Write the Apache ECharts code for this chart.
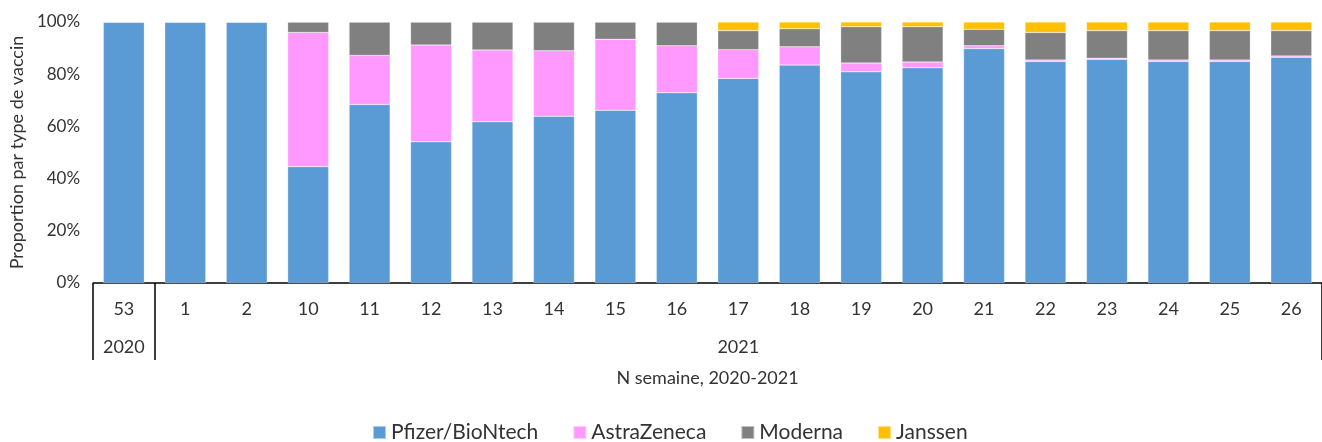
<!DOCTYPE html>
<html>
<head>
<meta charset="utf-8">
<script src="https://cdn.jsdelivr.net/npm/echarts@6/dist/echarts.min.js"></script>
<style>
  html, body { margin: 0; padding: 0; background: #fff; }
  #chart_one { width: 1322px; height: 442px; }
</style>
</head>
<body>
<div id="chart_one"></div>
<script>
// semaines (N) et année
const weeks = ['53', '1', '2', '10', '11', '12', '13', '14', '15', '16', '17', '18', '19', '20', '21', '22', '23', '24', '25', '26'];
const yearLabels = ['2020', '', '', '', '', '', '', '', '', '', '2021', '', '', '', '', '', '', '', '', ''];

// proportions (%) par type de vaccin
const pfizer      = [100, 100, 100, 44.6, 68.4, 54.1, 61.8, 63.9, 66.2, 72.9, 78.4, 83.5, 80.9, 82.5, 89.8, 84.9, 85.7, 84.9, 84.9, 86.5];
const astrazeneca = [0, 0, 0, 51.4, 18.8, 37.1, 27.5, 25.1, 27.2, 18.0, 11.0, 7.0, 3.4, 2.2, 1.1, 0.5, 0.4, 0.5, 0.5, 0.5];
const moderna     = [0, 0, 0, 4.0, 12.8, 8.8, 10.7, 11.0, 6.6, 9.1, 7.3, 6.9, 13.9, 13.5, 6.3, 10.6, 10.6, 11.3, 11.3, 9.7];
const janssen     = [0, 0, 0, 0, 0, 0, 0, 0, 0, 0, 3.3, 2.6, 1.8, 1.8, 2.8, 4.0, 3.3, 3.3, 3.3, 3.3];

const yTicks = [0, 20, 40, 60, 80, 100];

var theDom = document.getElementById('chart_one');
var myChart = echarts.init(theDom);
var font = 'Lato';

function bar(name, data, color) {
    return {
        name: name,
        type: 'bar',
        stack: 'total',
        barWidth: 41,
        itemStyle: { color: color, borderColor: 'rgba(255,255,255,0.5)', borderWidth: 0.5 },
        data: data
    };
}

var option = {
    animation: false,
    textStyle: { fontFamily: font },
    legend: {
        left: 372,
        top: 422,
        padding: 0,
        itemWidth: 13,
        itemHeight: 13,
        itemGap: 34,
        icon: 'rect',
        textStyle: { fontFamily: font, fontSize: 21, color: '#333' },
        data: ['Pfizer/BioNtech', 'AstraZeneca', 'Moderna', 'Janssen']
    },
    grid: {
        left: 93,
        top: 22,
        width: 1238,
        height: 261
    },
    xAxis: [
        {
            type: 'category',
            data: weeks,
            axisLine: { lineStyle: { color: '#000', width: 1.5 } },
            axisTick: {
                show: true,
                length: 77,
                interval: function (idx) { return idx === 0 || idx === 1; },
                lineStyle: { color: '#000', width: 1.5 }
            },
            axisLabel: { fontFamily: font, fontSize: 18, color: '#333', margin: 17, interval: 0 },
            name: 'N semaine, 2020-2021',
            nameLocation: 'middle',
            nameGap: 86,
            nameTextStyle: { fontFamily: font, fontSize: 18, color: '#333' }
        },
        {
            type: 'category',
            position: 'bottom',
            offset: 38,
            data: yearLabels,
            axisLine: { show: false },
            axisTick: { show: false },
            axisLabel: { fontFamily: font, fontSize: 18, color: '#333', margin: 17, interval: 0 }
        }
    ],
    yAxis: {
        type: 'value',
        min: 0,
        max: 100,
        interval: 20,
        splitLine: { show: false },
        axisLine: { show: false },
        axisTick: { show: false },
        axisLabel: {
            fontFamily: font, fontSize: 17, color: '#333', margin: 13,
            formatter: function (v) { return yTicks.indexOf(v) >= 0 ? v + '%' : ''; }
        },
        name: 'Proportion par type de vaccin',
        nameLocation: 'middle',
        nameGap: 62,
        nameTextStyle: { fontFamily: font, fontSize: 18, color: '#333' }
    },
    series: [
        bar('Pfizer/BioNtech', pfizer, '#5B9BD5'),
        bar('AstraZeneca', astrazeneca, '#FF99FF'),
        bar('Moderna', moderna, '#808080'),
        bar('Janssen', janssen, '#FFC000')
    ]
};

myChart.setOption(option);
window.onresize = function () {
    myChart.resize();
};
</script>
</body>
</html>
